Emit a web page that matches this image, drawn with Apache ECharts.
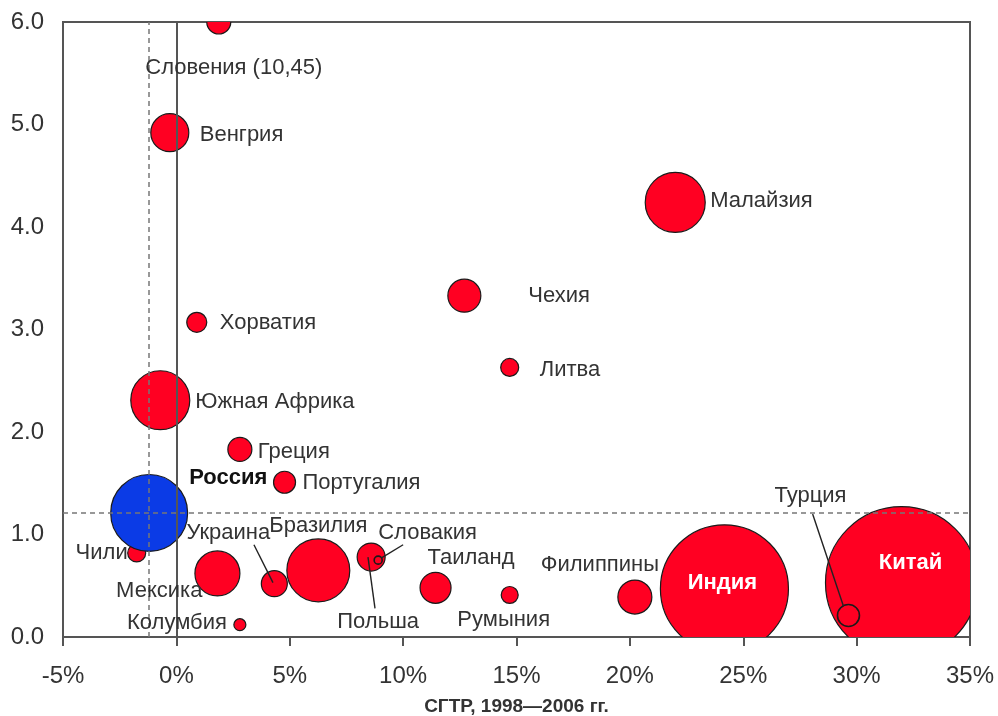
<!DOCTYPE html>
<html><head><meta charset="utf-8">
<script src="https://cdn.jsdelivr.net/npm/echarts/dist/echarts.min.js"></script>
<style>html,body{margin:0;padding:0;background:#fff}#c{width:998px;height:716px}</style>
</head><body><div id="c"></div>
<script>
// ---- data ----
const countries = ['Словения','Венгрия','Малайзия','Чехия','Литва','Хорватия','Южная Африка','Греция','Португалия','Чили','Россия','Мексика','Украина','Бразилия','Польша','Словакия','Таиланд','Румыния','Филиппины','Индия','Китай','Турция','Колумбия'];
const growth = [1.87,-0.29,22.0,12.7,14.7,0.9,-0.71,2.8,4.77,-1.75,-1.2,1.81,4.32,6.26,8.59,8.9,11.43,14.7,20.22,24.17,31.98,29.64,2.8];
const ratio  = [10.45,4.92,4.24,3.33,2.63,3.07,2.31,1.83,1.51,0.82,1.21,0.62,0.52,0.65,0.78,0.75,0.48,0.41,0.39,0.47,0.53,0.21,0.12];
const weight = [1.44,3.61,9.0,2.72,0.81,1.0,8.7,1.44,1.21,0.81,14.8,5.06,1.69,9.9,1.96,0.16,2.4,0.72,2.89,41.0,57.8,1.21,0.36];
const xTicks = [-5,0,5,10,15,20,25,30,35];
const yTicks = [0,1,2,3,4,5,6];
const xTitle = 'СГТР, 1998—2006 гг.';
// leader lines: [fromX, fromY, toX, toY]
const leaders = [[3.42,0.90,4.26,0.53],[10.0,0.90,9.03,0.77],[8.45,0.78,8.76,0.28],[28.06,1.20,29.42,0.30]];

// ---- layout / style (not data) ----
const Y_MAX = yTicks[yTicks.length-1];
const R_SCALE = 10;
const labelPos = {
  'Словения':[15,46,'center'], 'Венгрия':[30,2,'left'], 'Малайзия':[35,-1,'left'], 'Чехия':[64,0,'left'],
  'Литва':[30,3,'left'], 'Хорватия':[23,1,'left'], 'Южная Африка':[35,2,'left'], 'Греция':[18,3,'left'],
  'Португалия':[18,1,'left'], 'Чили':[-9,0,'right'], 'Россия':[40,-35,'left'], 'Мексика':[-15,17,'right'],
  'Украина':[-46,-51,'center'], 'Бразилия':[0,-44,'center'], 'Польша':[7,65,'center'], 'Словакия':[0,-27,'left'],
  'Таиланд':[-8,-30,'left'], 'Румыния':[-6,25,'center'], 'Филиппины':[-35,-32,'center'], 'Индия':[-2,-6,'center'],
  'Китай':[9,-20,'center'], 'Турция':[-38,-120,'center'], 'Колумбия':[-13,-2,'right']
};
const RED = '#FF0022', BLUE = '#0B3BE6', TXT = '#333333', AX = '#555555';
const FONT = 'Liberation Sans, Arial, sans-serif';
const outlineOnly = ['Турция','Словакия'];
const whiteBold = ['Индия','Китай'];

const bubbleData = countries.map((c,i)=>[growth[i], ratio[i], weight[i], i]);
const refIdx = countries.indexOf('Россия');

const chart = echarts.init(document.getElementById('c'), null, {renderer:'canvas'});
chart.setOption({
  animation:false,
  grid:{left:63, right:28, top:22, bottom:79, containLabel:false, outerBoundsMode:'none',
    show:true, borderColor:AX, borderWidth:2},
  xAxis:{type:'value', min:xTicks[0], max:xTicks[xTicks.length-1], interval:5,
    axisLine:{show:true, onZero:false, lineStyle:{color:AX, width:2}},
    axisTick:{show:true, length:9, lineStyle:{color:AX, width:2}},
    splitLine:{show:false},
    axisLabel:{formatter:'{value}%', fontSize:24, color:TXT, margin:27, fontFamily:FONT},
    name:xTitle, nameLocation:'middle', nameGap:60,
    nameTextStyle:{fontSize:19, fontWeight:'bold', color:TXT, fontFamily:FONT}},
  yAxis:{type:'value', min:yTicks[0], max:Y_MAX, interval:1,
    axisLine:{show:true, onZero:false, lineStyle:{color:AX, width:2}},
    axisTick:{show:false}, splitLine:{show:false},
    axisLabel:{formatter:v=>v.toFixed(1), fontSize:24, color:TXT, margin:19, fontFamily:FONT}},
  series:[
    {type:'line', data:[], silent:true,
      markLine:{silent:true, symbol:['none','none'], label:{show:false}, animation:false,
        data:[
          {xAxis:0, lineStyle:{color:AX, width:2, type:'solid'}},
          {xAxis:growth[refIdx], lineStyle:{color:'#777', width:1.5, type:[5,4]}},
          {yAxis:ratio[refIdx], lineStyle:{color:'#777', width:1.5, type:[5,4]}}
        ]}},
    {type:'custom', clip:true, data:bubbleData, encode:{x:0,y:1}, z:3,
      renderItem:(params, api)=>{
        const i = api.value(3);
        const p = api.coord([api.value(0), Math.min(api.value(1), Y_MAX)]);
        const r = R_SCALE*Math.sqrt(api.value(2));
        const name = countries[i];
        const out = outlineOnly.includes(name);
        return {type:'circle', shape:{cx:p[0], cy:p[1], r:r},
          style:{fill: out ? 'rgba(0,0,0,0)' : (name==='Россия'?BLUE:RED), stroke:'#1a1a1a', lineWidth: out?1.6:1.2}};
      }},
    {type:'custom', data:leaders, encode:{x:[0,2], y:[1,3]}, z:4,
      renderItem:(params, api)=>{
        const a = api.coord([api.value(0), api.value(1)]);
        const b = api.coord([api.value(2), api.value(3)]);
        return {type:'line', shape:{x1:a[0], y1:a[1], x2:b[0], y2:b[1]}, style:{stroke:'#222', lineWidth:1.4}};
      }},
    {type:'custom', data:bubbleData, encode:{x:0,y:1}, z:5,
      renderItem:(params, api)=>{
        const i = api.value(3);
        const name = countries[i];
        const v = ratio[i];
        const p = api.coord([api.value(0), Math.min(v, Y_MAX)]);
        const lp = labelPos[name];
        const text = v > Y_MAX ? name + ' (' + v.toFixed(2).replace('.',',') + ')' : name;
        const wb = whiteBold.includes(name);
        const bold = wb || name==='Россия';
        return {type:'text', x:p[0]+lp[0], y:p[1]+lp[1],
          style:{text:text, fill: wb ? '#fff' : (name==='Россия' ? '#111' : TXT),
            fontSize: 22, fontWeight: bold ? 'bold' : 'normal',
            fontFamily:FONT, align:lp[2], verticalAlign:'middle'}};
      }}
  ]
});
</script></body></html>
